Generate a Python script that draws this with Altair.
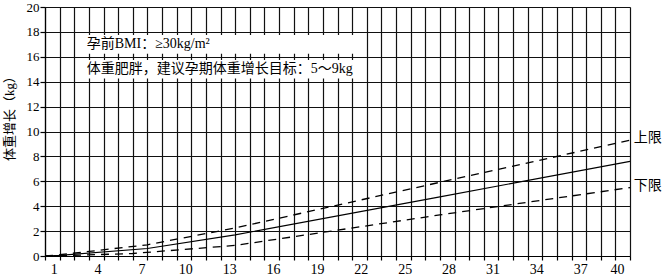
import altair as alt
import pandas as pd

# ---- data ----
weeks_upper = [0, 1, 7, 13, 27, 40]
upper = [0, 0.1, 0.9, 2.25, 5.92, 9.3]
weeks_mid = [0, 1, 7, 13, 27, 40]
middle = [0, 0.05, 0.6, 1.7, 4.75, 7.6]
weeks_lower = [0, 1, 6, 13, 27, 40]
lower = [0, 0.02, 0.2, 0.85, 3.3, 5.5]

x_ticks = list(range(0, 41))
y_ticks = list(range(0, 21, 2))

note_lines = ["孕前BMI：≥30kg/m²", "体重肥胖，建议孕期体重增长目标：5～9kg"]
note_y = [17.0, 15.0]
note_x = [2.85, 2.85]
box_x = [2.4, 2.4]
box_x2 = [21.5, 21.5]
box_y = [16.25, 14.25]
box_y2 = [17.75, 15.75]

side_labels = ["上限", "下限"]
side_x = [40.25, 40.25]
side_y = [9.45, 5.6]

FONT = "Liberation Serif, Noto Sans CJK SC"

lines_df = pd.concat([
    pd.DataFrame({"week": weeks_upper, "gain": upper, "series": "upper"}),
    pd.DataFrame({"week": weeks_lower, "gain": lower, "series": "lower"}),
])
mid_df = pd.DataFrame({"week": weeks_mid, "gain": middle})
box_df = pd.DataFrame({"week": box_x, "x2": box_x2, "gain": box_y, "y2": box_y2})
note_df = pd.DataFrame({"week": note_x, "gain": note_y, "t": note_lines})
side_df = pd.DataFrame({"week": side_x, "gain": side_y, "t": side_labels})

xscale = alt.Scale(domain=[0, 40], nice=False, zero=False)
yscale = alt.Scale(domain=[0, 20], nice=False)

xaxis = alt.Axis(
    values=x_ticks,
    labelExpr="(datum.value - 1) % 3 == 0 ? datum.label : ''",
    grid=True, gridColor="#111", gridWidth=1.2, gridOpacity=1,
    domainColor="#000", domainWidth=1.2,
    tickColor="#000", tickSize=4, tickWidth=1.2,
    labelFont=FONT, labelFontSize=14, labelColor="#000",
    labelOffset=-6, labelPadding=2, labelOverlap=False, title=None,
)
yaxis = alt.Axis(
    values=y_ticks,
    grid=True, gridColor="#111", gridWidth=1.2, gridOpacity=1,
    domainColor="#000", domainWidth=1.2,
    tickColor="#000", tickSize=5, tickWidth=1.2,
    labelFont=FONT, labelFontSize=13, labelColor="#000", labelPadding=1,
    labelOverlap=False,
    title="体重增长（kg）", titleFont=FONT, titleFontSize=13,
    titleFontWeight="normal", titleColor="#000",
    titleX=-36, titleY=108, titleAngle=-90, titleAlign="center",
    titleBaseline="middle",
)

X = alt.X("week:Q", scale=xscale, axis=xaxis)
Y = alt.Y("gain:Q", scale=yscale, axis=yaxis)

boxes = alt.Chart(box_df).mark_rect(color="white").encode(
    x=X, x2="x2:Q", y=Y, y2="y2:Q",
)

notes = alt.Chart(note_df).mark_text(
    align="left", baseline="middle", font=FONT, fontSize=14, color="#000"
).encode(x=X, y=Y, text="t:N")

dashed = alt.Chart(lines_df).mark_line(
    color="#000", strokeWidth=1.3, strokeDash=[8, 6]
).encode(x=X, y=Y, detail="series:N")

solid = alt.Chart(mid_df).mark_line(color="#000", strokeWidth=1.1).encode(
    x=X, y=Y
)

side = alt.Chart(side_df).mark_text(
    align="left", baseline="middle", font=FONT, fontSize=14, color="#000", clip=False
).encode(x=X, y=Y, text="t:N")

chart = alt.layer(boxes, notes, dashed, solid, side).properties(
    width=585, height=249,
    autosize=alt.AutoSizeParams(type="none"),
    padding={"left": 45, "top": 7, "right": 32, "bottom": 21},
).configure_view(stroke=None).configure(background="white")

chart.save("out.html", embed_options={"renderer": "svg", "actions": False})
